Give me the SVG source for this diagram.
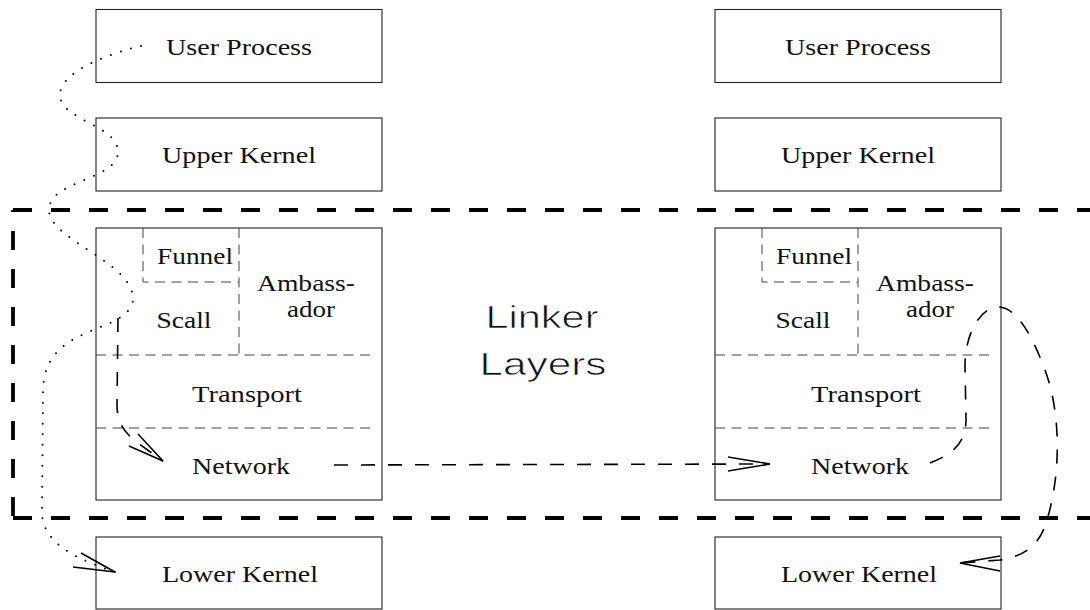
<svg xmlns="http://www.w3.org/2000/svg" width="1090" height="610" viewBox="0 0 1090 610">
  <style>
    .box { fill: #ffffff; stroke: #222222; stroke-width: 1.1; }
    .split { fill: none; stroke: #444444; stroke-width: 1; stroke-dasharray: 10 6.5; }
    .lbl { font-family: "Liberation Serif", "Times New Roman", serif; font-size: 24px; fill: #111111; text-anchor: middle; }
    .big { font-family: "Liberation Sans", Arial, sans-serif; font-size: 32px; fill: #111111; stroke: #ffffff; stroke-width: 0.7; text-anchor: middle; }
    .frame { fill: none; stroke: #000000; stroke-width: 3.8; stroke-dasharray: 19 19; }
    .dots { fill: none; stroke: #000000; stroke-width: 2; stroke-linecap: round; stroke-dasharray: 0 10.5; }
    .dash { fill: none; stroke: #000000; stroke-width: 1.6; stroke-dasharray: 14 13; }
    .head { fill: none; stroke: #000000; stroke-width: 1.6; stroke-linejoin: miter; }
  </style>

  <!-- left stack -->
  <g id="left-user-process">
    <rect class="box" x="96" y="9.5" width="286" height="73"/>
    <text class="lbl" x="239" y="55" textLength="146" lengthAdjust="spacingAndGlyphs">User Process</text>
  </g>
  <g id="left-upper-kernel">
    <rect class="box" x="96" y="118" width="286" height="73"/>
    <text class="lbl" x="239" y="163" textLength="154" lengthAdjust="spacingAndGlyphs">Upper Kernel</text>
  </g>
  <g id="left-linker">
    <rect class="box" x="96" y="228" width="286" height="272"/>
    <path class="split" d="M143,228 V282 H239 M239,228 V355 M96,355 H373 M96,428 H373"/>
    <text class="lbl" x="195" y="264" textLength="76" lengthAdjust="spacingAndGlyphs">Funnel</text>
    <text class="lbl" x="306" y="291" textLength="98" lengthAdjust="spacingAndGlyphs">Ambass-</text>
    <text class="lbl" x="311" y="317" textLength="48" lengthAdjust="spacingAndGlyphs">ador</text>
    <text class="lbl" x="184" y="328" textLength="55" lengthAdjust="spacingAndGlyphs">Scall</text>
    <text class="lbl" x="247" y="402" textLength="110" lengthAdjust="spacingAndGlyphs">Transport</text>
    <text class="lbl" x="241" y="474" textLength="98" lengthAdjust="spacingAndGlyphs">Network</text>
  </g>
  <g id="left-lower-kernel">
    <rect class="box" x="96" y="537" width="286" height="72"/>
    <text class="lbl" x="240" y="582" textLength="156" lengthAdjust="spacingAndGlyphs">Lower Kernel</text>
  </g>

  <!-- right stack -->
  <g id="right-user-process">
    <rect class="box" x="715" y="9.5" width="286" height="73"/>
    <text class="lbl" x="858" y="55" textLength="146" lengthAdjust="spacingAndGlyphs">User Process</text>
  </g>
  <g id="right-upper-kernel">
    <rect class="box" x="715" y="118" width="286" height="73"/>
    <text class="lbl" x="858" y="163" textLength="154" lengthAdjust="spacingAndGlyphs">Upper Kernel</text>
  </g>
  <g id="right-linker">
    <rect class="box" x="715" y="228" width="286" height="272"/>
    <path class="split" d="M762,228 V282 H858 M858,228 V355 M715,355 H992 M715,428 H992"/>
    <text class="lbl" x="814" y="264" textLength="76" lengthAdjust="spacingAndGlyphs">Funnel</text>
    <text class="lbl" x="925" y="291" textLength="98" lengthAdjust="spacingAndGlyphs">Ambass-</text>
    <text class="lbl" x="930" y="317" textLength="48" lengthAdjust="spacingAndGlyphs">ador</text>
    <text class="lbl" x="803" y="328" textLength="55" lengthAdjust="spacingAndGlyphs">Scall</text>
    <text class="lbl" x="866" y="402" textLength="110" lengthAdjust="spacingAndGlyphs">Transport</text>
    <text class="lbl" x="860" y="474" textLength="98" lengthAdjust="spacingAndGlyphs">Network</text>
  </g>
  <g id="right-lower-kernel">
    <rect class="box" x="715" y="537" width="286" height="72"/>
    <text class="lbl" x="859" y="582" textLength="156" lengthAdjust="spacingAndGlyphs">Lower Kernel</text>
  </g>

  <!-- linker layer band -->
  <g id="linker-layers">
    <path class="frame" d="M13,210 H1100"/>
    <path class="frame" d="M13,518 H1100"/>
    <path class="frame" stroke-dashoffset="17" d="M13,210 V518"/>
    <text class="big" x="542" y="328" textLength="113" lengthAdjust="spacingAndGlyphs">Linker</text>
    <text class="big" x="543" y="375" textLength="127" lengthAdjust="spacingAndGlyphs">Layers</text>
  </g>

  <g id="connectors">
    <!-- system call path down the left stack -->
    <path class="dots" d="M141,46 C115,52 60,70 60,95 C60,120 118,125 118,152 C118,180 49,180 49,210 C49,240 133,262 133,299 C133,308 125,316 110,323 C80,336 44,345 43,390 L42,512 C42,545 80,560 115,572"/>
    <polyline class="head" points="81,553 115,572 73,567"/>

    <!-- scall into network, left -->
    <path class="dash" d="M118,318 L117,405 C117,420 122,430 135,441 L163,461"/>
    <polyline class="head" points="129,446 163,461 138,434"/>

    <!-- network to network -->
    <path class="dash" d="M334,465 L770,464"/>
    <polyline class="head" points="728,457 770,464 728,471"/>

    <!-- network up through ambassador and down to lower kernel, right -->
    <path class="dash" d="M930,463 C950,455 966,445 966,420 L965,365 C965,335 980,307 998,307 C1015,307 1030,330 1045,370 C1060,410 1062,470 1047,520 C1040,545 1025,556 1000,560 L960,563"/>
    <polyline class="head" points="1000,556 960,563 1000,571"/>
  </g>
</svg>
